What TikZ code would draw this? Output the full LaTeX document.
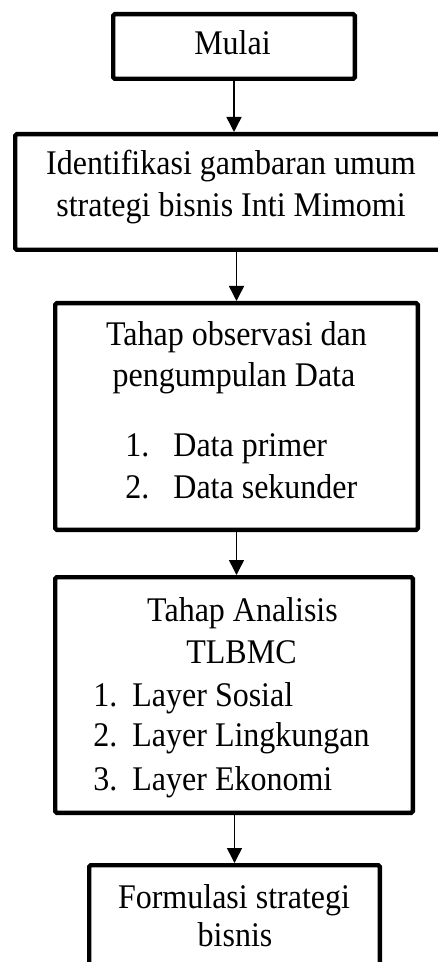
\documentclass[tikz,border=0pt]{standalone}
\usepackage{fontspec}
\setmainfont{Liberation Serif}
\usetikzlibrary{arrows.meta}

\begin{document}
\begin{tikzpicture}[x=0.5pt, y=-0.5pt]

\tikzstyle{box} = [rectangle, draw, line width=2.2pt, rounded corners=0.8pt]
\tikzstyle{txt} = [inner sep=0pt, anchor=base, font=\fontsize{16}{20}\selectfont, yscale=1.08, transform shape]
\tikzstyle{item} = [txt, anchor=base west]
\tikzstyle{arr} = [-{Triangle[width=7.5pt,length=7.5pt]}, line width=0.75pt]

\useasboundingbox (0,0) rectangle (438,962);

\node[box, minimum width=120.8pt, minimum height=32.3pt] (mulai) at (234,46.5) {};
\node[box, minimum width=215.8pt, minimum height=57.8pt] (ident) at (231,192) {};
\node[box, minimum width=181.3pt, minimum height=113.3pt] (obs) at (236.5,416.5) {};
\node[box, minimum width=178.8pt, minimum height=117.8pt] (anl) at (234,695) {};
\node[box, minimum width=145.3pt, minimum height=71.3pt] (form) at (234.5,936.5) {};

\node[txt] (mulai1) at (232.5,55) {Mulai};

\node[txt] (ident1) at (231,175) {Identifikasi gambaran umum};
\node[txt] (ident2) at (231,216.7) {strategi bisnis Inti Mimomi};

\node[txt] (obs1) at (236.5,345) {Tahap observasi dan};
\node[txt] (obs2) at (234,386.7) {pengumpulan Data};
\node[item] (obs3) at (125,456.7) {\makebox[24pt][l]{1.}Data primer};
\node[item] (obs4) at (125,498) {\makebox[24pt][l]{2.}Data sekunder};

\node[txt] (anl1) at (242.5,621.7) {Tahap Analisis};
\node[txt] (anl2) at (241.5,663.3) {TLBMC};
\node[item] (anl3) at (93,706.7) {\makebox[19.5pt][l]{1.}Layer Sosial};
\node[item] (anl4) at (93,746.7) {\makebox[19.5pt][l]{2.}Layer Lingkungan};
\node[item] (anl5) at (93,790) {\makebox[19.5pt][l]{3.}Layer Ekonomi};

\node[txt] (form1) at (234,908) {Formulasi strategi};
\node[txt] (form2) at (235,946.7) {bisnis};

\draw[arr] (mulai.south) -- (mulai.south |- ident.north);
\draw[arr] (obs.north |- ident.south) -- (obs.north);
\draw[arr] (obs.south) -- (obs.south |- anl.north);
\draw[arr] (form.north |- anl.south) -- (form.north);
\end{tikzpicture}
\end{document}
